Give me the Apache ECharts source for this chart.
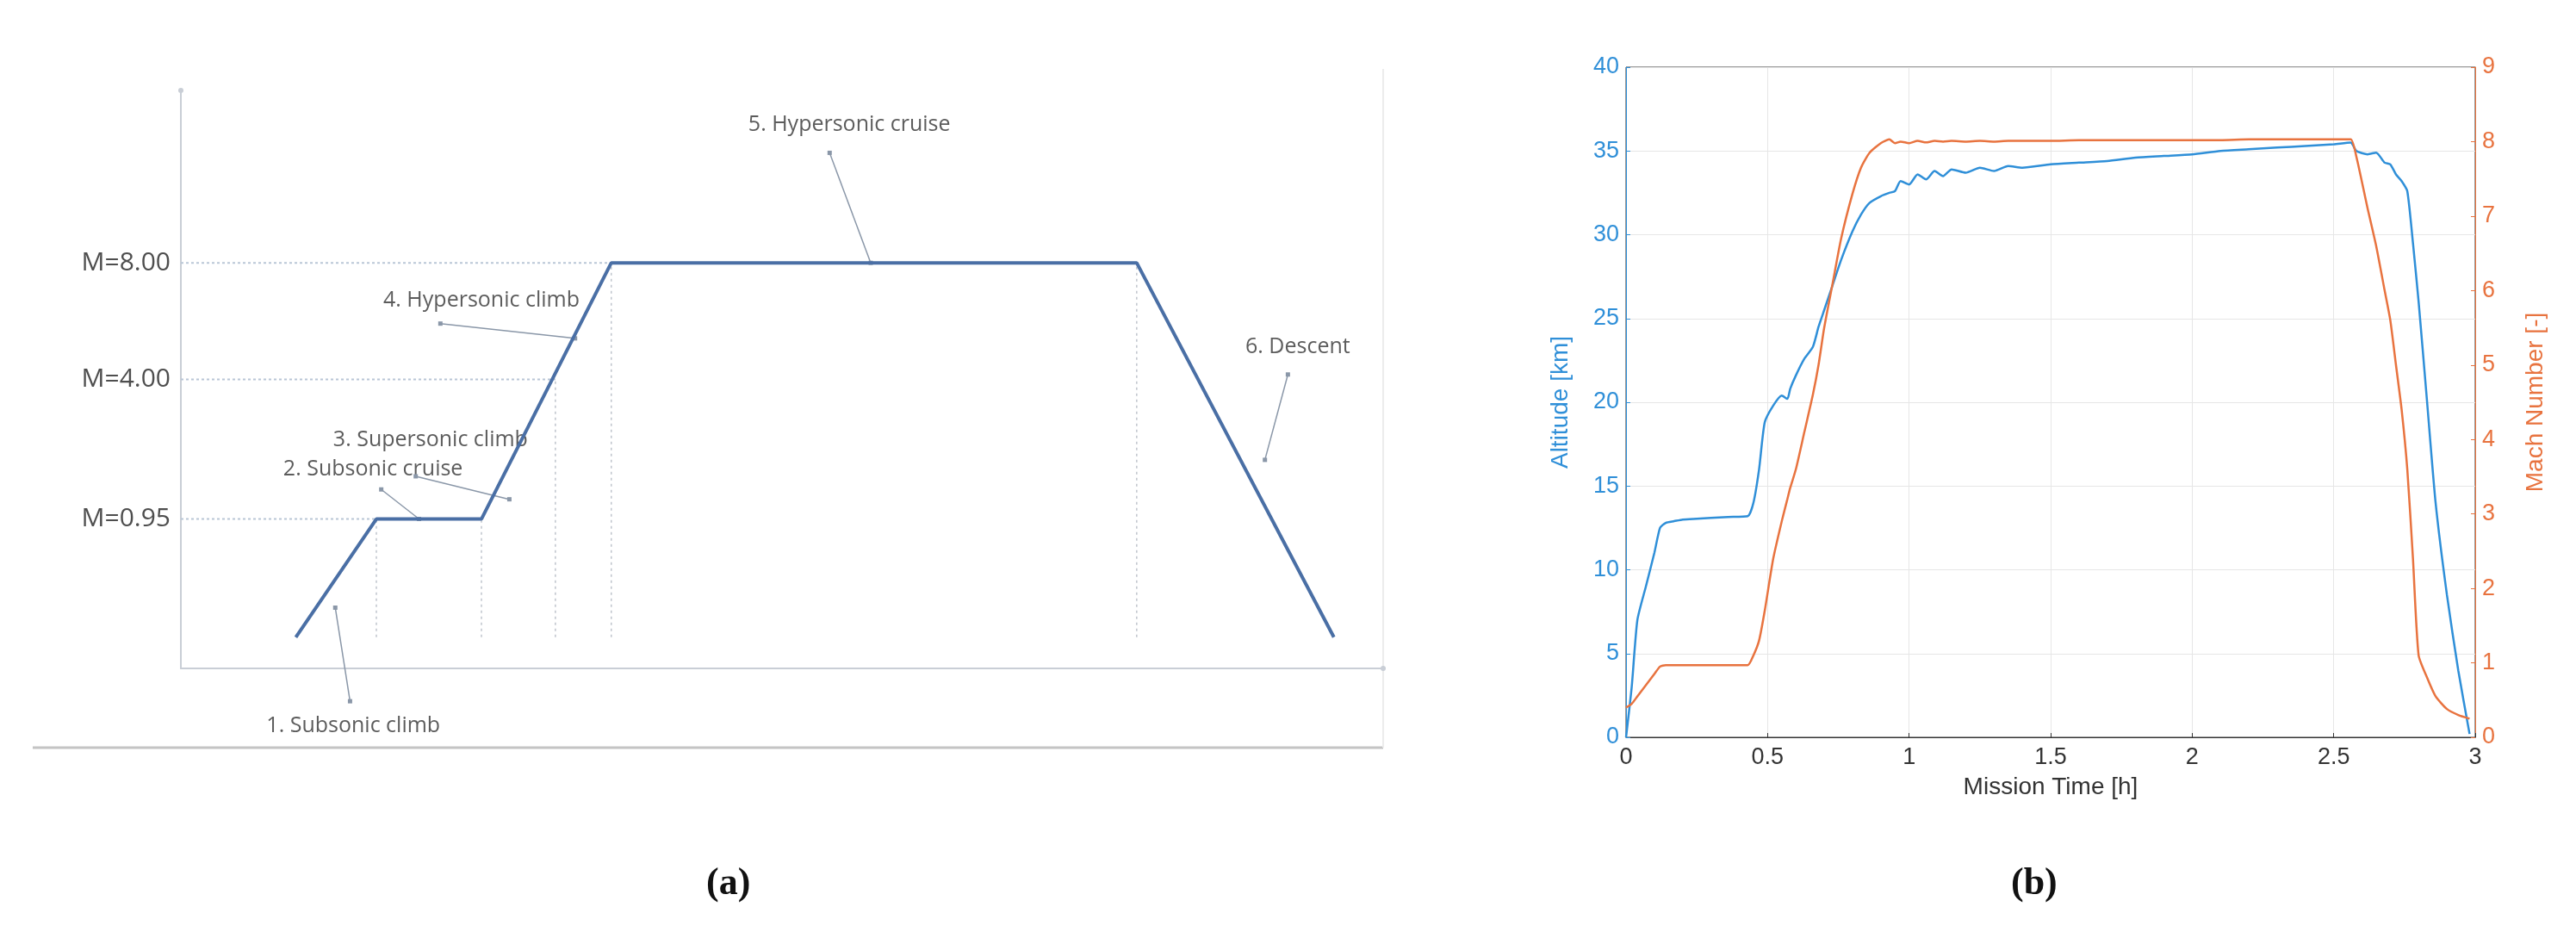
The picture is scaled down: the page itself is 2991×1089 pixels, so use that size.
<!DOCTYPE html>
<html><head><meta charset="utf-8">
<script src="https://cdn.jsdelivr.net/npm/echarts@6/dist/echarts.min.js"></script>
<style>html,body{margin:0;background:#fff}#c{width:2991px;height:1089px}</style>
</head><body><div id="c"></div>
<script>
// panel (a): mission profile schematic (normalised units)
var profileX = [0.0956, 0.1626, 0.25, 0.358, 0.795, 0.959];
var profileY = [0.054, 0.2585, 0.2585, 0.7017, 0.7017, 0.054];
var machLevels = [0.2585, 0.5, 0.7017];
var machLevelLabels = ['M=0.95', 'M=4.00', 'M=8.00'];
var machLevelEnds = [0.1626, 0.3115, 0.358];
var phaseX = [0.1626, 0.25, 0.3115, 0.358, 0.795];
var phaseTop = [0.2585, 0.2585, 0.5, 0.7017, 0.7017];
var phaseNames = ['1. Subsonic climb', '2. Subsonic cruise', '3. Supersonic climb', '4. Hypersonic climb', '5. Hypersonic cruise', '6. Descent'];
// annotation [textX, textY, dotX, dotY, tipX, tipY] in picture px of the schematic
var phaseNotes = [
  [215, 442, 213, 427, 204, 370],
  [227, 286, 232, 298, 255, 316],
  [262, 268, 253, 290, 310, 304],
  [293, 183, 268, 197, 350, 206],
  [517, 76, 505, 93, 530, 160],
  [790, 211, 784, 228, 770, 280]
];

// panel (b): simulated mission
var timeH = [0, 0.02, 0.04, 0.07, 0.1, 0.12, 0.14, 0.17, 0.2, 0.25, 0.3, 0.36, 0.43, 0.45, 0.47, 0.49, 0.52, 0.55, 0.57, 0.58, 0.6, 0.63, 0.66, 0.68, 0.7, 0.73, 0.76, 0.8, 0.83, 0.86, 0.9, 0.93, 0.95, 0.97, 1.0, 1.03, 1.06, 1.09, 1.12, 1.15, 1.2, 1.25, 1.3, 1.35, 1.4, 1.5, 1.6, 1.7, 1.8, 1.9, 2.0, 2.1, 2.2, 2.3, 2.4, 2.5, 2.56, 2.58, 2.62, 2.65, 2.68, 2.7, 2.72, 2.74, 2.76, 2.78, 2.8, 2.83, 2.86, 2.9, 2.94, 2.98];
var altitudeKm = [0, 3, 7, 9, 11, 12.5, 12.8, 12.9, 13, 13.05, 13.1, 13.15, 13.2, 14, 16, 18.8, 19.8, 20.4, 20.2, 20.8, 21.6, 22.6, 23.3, 24.5, 25.5, 27, 28.5, 30.2, 31.2, 31.9, 32.3, 32.5, 32.6, 33.2, 33.0, 33.6, 33.3, 33.8, 33.5, 33.9, 33.7, 34.0, 33.8, 34.1, 34.0, 34.2, 34.3, 34.4, 34.6, 34.7, 34.8, 35.0, 35.1, 35.2, 35.3, 35.4, 35.5, 35.0, 34.8, 34.9, 34.3, 34.2, 33.6, 33.2, 32.6, 29.5, 26, 20, 14, 8.5, 4, 0.2];
var machNum = [0.4, 0.45, 0.55, 0.7, 0.85, 0.95, 0.97, 0.97, 0.97, 0.97, 0.97, 0.97, 0.97, 1.1, 1.3, 1.7, 2.4, 2.9, 3.2, 3.35, 3.6, 4.1, 4.6, 5.0, 5.5, 6.1, 6.7, 7.3, 7.65, 7.85, 7.98, 8.03, 7.98, 8.0, 7.98, 8.01, 7.99, 8.01, 8.0, 8.01, 8.0, 8.01, 8.0, 8.01, 8.01, 8.01, 8.02, 8.02, 8.02, 8.02, 8.02, 8.02, 8.03, 8.03, 8.03, 8.03, 8.03, 7.8, 7.1, 6.6, 6.0, 5.6, 5.0, 4.4, 3.6, 2.4, 1.1, 0.8, 0.55, 0.38, 0.3, 0.25];
var altTicks = [0, 40, 5];
var machTicks = [0, 9, 1];

function zip(a, b) { return a.map(function (v, i) { return [v, b[i]]; }); }
// schematic px -> normalised units
function nx(p) { return (p - 110) / 732; }
function ny(p) { return (407 - p) / 352; }

var textFont = 'Open Sans';
var series = [];
// main profile
series.push({ type: 'line', xAxisIndex: 0, yAxisIndex: 0, data: zip(profileX, profileY), symbol: 'none',
  lineStyle: { color: '#4a6fa5', width: 4 }, z: 5 });
// dotted mach levels
machLevels.forEach(function (m, i) {
  series.push({ type: 'line', xAxisIndex: 0, yAxisIndex: 0, data: [[0, m], [machLevelEnds[i], m]], symbol: 'none',
    lineStyle: { color: '#b9c6d6', width: 2, type: [3, 3] } });
});
// dashed phase boundaries
phaseX.forEach(function (x, i) {
  series.push({ type: 'line', xAxisIndex: 0, yAxisIndex: 0, data: [[x, profileY[0]], [x, phaseTop[i]]], symbol: 'none',
    lineStyle: { color: '#bfc4cc', width: 1.5, type: [3, 4] } });
});
// leaders and notes
phaseNotes.forEach(function (n, i) {
  series.push({ type: 'line', xAxisIndex: 0, yAxisIndex: 0, clip: false, data: [[nx(n[2]), ny(n[3])], [nx(n[4]), ny(n[5])]],
    symbol: ['circle', 'none'], symbolSize: 5, itemStyle: { color: '#8a97a8' },
    lineStyle: { color: '#8a97a8', width: 1.5 } });
  series.push({ type: 'scatter', xAxisIndex: 0, yAxisIndex: 0, clip: false, data: [[nx(n[0]), ny(n[1])]], symbolSize: 0,
    label: { show: true, position: 'inside', formatter: phaseNames[i], color: '#333', fontSize: 25, fontFamily: textFont } });
});
// mach labels
machLevels.forEach(function (m, i) {
  series.push({ type: 'scatter', xAxisIndex: 0, yAxisIndex: 0, clip: false, data: [[0, m]], symbolSize: 0,
    label: { show: true, position: 'left', distance: 12, formatter: machLevelLabels[i], color: '#222', fontSize: 30, fontFamily: textFont } });
});
// panel (b)
series.push({ name: 'Altitude', type: 'line', xAxisIndex: 1, yAxisIndex: 1, data: zip(timeH, altitudeKm), symbol: 'none',
  smooth: 0.2, lineStyle: { color: '#2f8fd8', width: 2.5 } });
series.push({ name: 'Mach', type: 'line', xAxisIndex: 1, yAxisIndex: 2, data: zip(timeH, machNum), symbol: 'none',
  smooth: 0.2, lineStyle: { color: '#e8733f', width: 2.5 } });

var tickFont = { fontSize: 27, fontFamily: 'Liberation Sans' };
var option = {
  animation: false,
  grid: [
    { left: 210, top: 105, width: 1396, height: 671 },
    { left: 1888, right: 117, top: 78, height: 778, show: true, borderColor: '#333', borderWidth: 1 }
  ],
  xAxis: [
    { gridIndex: 0, type: 'value', min: 0, max: 1, axisLine: { show: true, symbol: ['none', 'circle'], symbolSize: [6, 6], lineStyle: { color: '#c9ced6', width: 2 } },
      axisTick: { show: false }, axisLabel: { show: false }, splitLine: { show: false } },
    { gridIndex: 1, type: 'value', min: 0, max: 3, interval: 0.5, name: 'Mission Time [h]', nameLocation: 'middle', nameGap: 44,
      nameTextStyle: { color: '#333', fontSize: 28, fontFamily: 'Liberation Sans' },
      axisLine: { lineStyle: { color: '#333' } }, axisTick: { inside: true, lineStyle: { color: '#333' } },
      axisLabel: Object.assign({ color: '#333', margin: 10 }, tickFont),
      splitLine: { show: true, lineStyle: { color: '#e6e6e6' } } },
  ],
  yAxis: [
    { gridIndex: 0, type: 'value', min: 0, max: 1, axisLine: { show: true, symbol: ['none', 'circle'], symbolSize: [6, 6], lineStyle: { color: '#c9ced6', width: 2 } },
      axisTick: { show: false }, axisLabel: { show: false }, splitLine: { show: false } },
    { gridIndex: 1, type: 'value', min: altTicks[0], max: altTicks[1], interval: altTicks[2], name: 'Altitude [km]', nameLocation: 'middle', nameGap: 62,
      nameTextStyle: { color: '#2f8fd8', fontSize: 28, fontFamily: 'Liberation Sans' },
      axisLine: { show: true, lineStyle: { color: '#2f8fd8' } }, axisTick: { show: true, inside: true },
      axisLabel: Object.assign({ color: '#2f8fd8' }, tickFont),
      splitLine: { show: true, lineStyle: { color: '#e6e6e6' } } },
    { gridIndex: 1, type: 'value', position: 'right', min: machTicks[0], max: machTicks[1], interval: machTicks[2], name: 'Mach Number [-]', nameLocation: 'middle', nameGap: 56,
      nameTextStyle: { color: '#e8733f', fontSize: 28, fontFamily: 'Liberation Sans' },
      axisLine: { show: true, lineStyle: { color: '#e8733f' } }, axisTick: { show: true, inside: true },
      axisLabel: Object.assign({ color: '#e8733f' }, tickFont), splitLine: { show: false } }
  ],
  graphic: [
    { type: 'line', shape: { x1: 38, y1: 868, x2: 1606, y2: 868 }, style: { stroke: '#c4c4c4', lineWidth: 3 } },
    { type: 'line', shape: { x1: 1606, y1: 80, x2: 1606, y2: 868 }, style: { stroke: '#ececec', lineWidth: 2 } },
    { type: 'text', left: 820, top: 1005, style: { text: '(a)', font: 'bold 44px "Liberation Serif"', fill: '#111' } },
    { type: 'text', left: 2335, top: 1005, style: { text: '(b)', font: 'bold 44px "Liberation Serif"', fill: '#111' } }
  ],
  series: series
};
var chart = echarts.init(document.getElementById('c'));
chart.setOption(option);
window.onresize = chart.resize;
</script>
</body></html>
